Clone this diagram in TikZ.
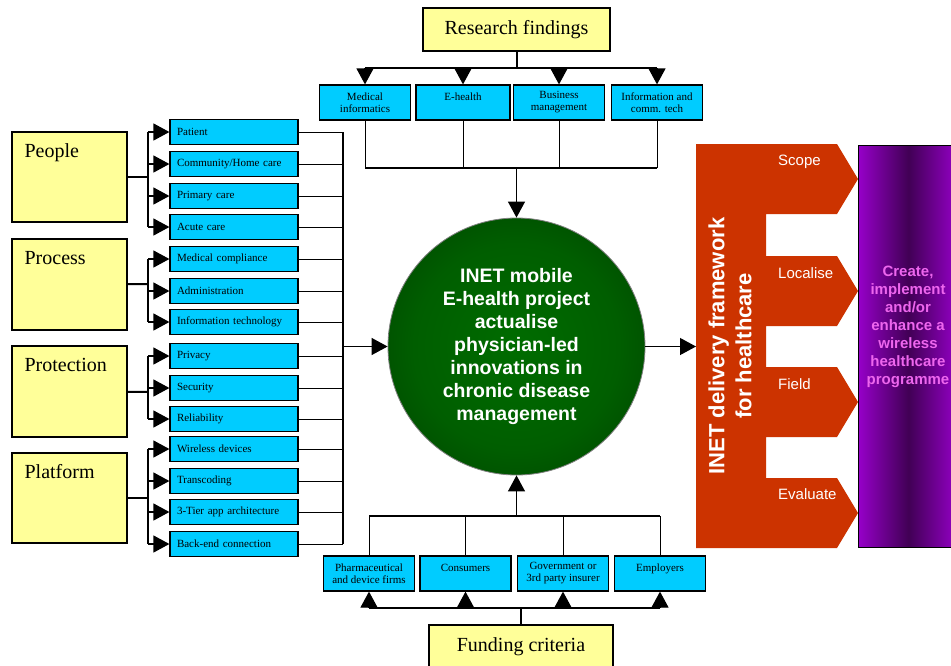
\documentclass[tikz,border=0pt]{standalone}
\usepackage{fontspec}
\setmainfont{Liberation Serif}
\setsansfont{Liberation Sans}
\usetikzlibrary{arrows.meta}
\definecolor{paleyellow}{RGB}{255,255,153}
\definecolor{skyblue}{RGB}{0,204,255}
\definecolor{rust}{RGB}{204,51,0}
\definecolor{violetedge}{RGB}{150,0,200}
\definecolor{violetmid}{RGB}{65,0,85}
\definecolor{pinktext}{RGB}{238,102,238}
\definecolor{hubin}{RGB}{0,108,0}
\definecolor{hubout}{RGB}{0,38,0}
\pgfdeclareradialshading{hubglow}{\pgfpoint{0bp}{0bp}}{color(0bp)=(hubin); color(20bp)=(hubin!80!hubout); color(50bp)=(hubout)}
\tikzset{
  heading/.style={draw=black, line width=1.2pt, fill=paleyellow, inner sep=0pt,
    font=\fontsize{20}{24}\selectfont},
  headtxt/.style={anchor=base west, inner sep=0pt, font=\fontsize{20}{24}\selectfont},
  itembox/.style={draw=black, line width=1.2pt, fill=skyblue, minimum height=25pt,
    text width=114pt, inner xsep=7pt, inner ysep=0pt, align=left,
    font=\fontsize{11}{12}\selectfont},
  topicbox/.style={draw=black, line width=1.2pt, fill=skyblue, minimum width=91pt,
    minimum height=35pt, inner sep=0pt, align=center,
    font=\fontsize{11}{12}\selectfont},
  link/.style={line width=1pt},
  bus/.style={line width=1.5pt},
  feed/.style={line width=2pt},
  tip/.style={line width=1.2pt, -{Triangle[length=16pt,width=17pt]}},
  steplbl/.style={text=white, inner sep=0pt, anchor=west,
    font=\sffamily\fontsize{15}{18}\selectfont},
}
\begin{document}
\begin{tikzpicture}[x=1pt,y=-1pt]
    \useasboundingbox[fill=white] (0,0) rectangle (951,665);
    %
    \node[heading, minimum width=115pt, minimum height=90pt] (people) at (69.5,177) {};
    \node[heading, minimum width=115pt, minimum height=91pt] (process) at (69.5,284.5) {};
    \node[heading, minimum width=115pt, minimum height=91pt] (protection) at (69.5,391.5) {};
    \node[heading, minimum width=115pt, minimum height=90pt] (platform) at (69.5,498) {};
    \node[headtxt] (peopletxt) at ([shift={(13,26)}]people.north west) {People};
    \node[headtxt] (processtxt) at ([shift={(13,26)}]process.north west) {Process};
    \node[headtxt] (protectiontxt) at ([shift={(13,26)}]protection.north west) {Protection};
    \node[headtxt] (platformtxt) at ([shift={(13,26)}]platform.north west) {Platform};
    %
    \node[itembox] (patient) at (234,132) {Patient};
    \node[itembox] (homecare) at (234,164) {Community/Home care};
    \node[itembox] (primary) at (234,196) {Primary care};
    \node[itembox] (acute) at (234,227) {Acute care};
    \node[itembox] (compliance) at (234,259) {Medical compliance};
    \node[itembox] (admin) at (234,291) {Administration};
    \node[itembox] (infotech) at (234,322) {Information technology};
    \node[itembox] (privacy) at (234,356) {Privacy};
    \node[itembox] (security) at (234,388) {Security};
    \node[itembox] (reliability) at (234,419) {Reliability};
    \node[itembox] (wireless) at (234,449) {Wireless devices};
    \node[itembox] (transcoding) at (234,481) {Transcoding};
    \node[itembox] (tier) at (234,512) {3-Tier app architecture};
    \node[itembox] (backend) at (234,544) {Back-end connection};
    %
    \node[heading, minimum width=187pt, minimum height=43pt] (research) at (516.5,29.5) {Research findings};
    \node[topicbox] (medinf) at (365,102.5) {Medical\\informatics};
    \node[topicbox, minimum width=94pt] (ehealth) at (463,102.5) {E-health\\~};
    \node[topicbox] (business) at (559,102.5) {Business\\management};
    \node[topicbox] (ict) at (657,102.5) {Information and\\comm. tech};
    %
    \node[topicbox] (pharma) at (369,573.5) {Pharmaceutical\\and device firms};
    \node[topicbox] (consumers) at (465.5,573.5) {Consumers\\~};
    \node[topicbox] (insurer) at (563,573.5) {Government or\\3rd party insurer};
    \node[topicbox] (employers) at (660,573.5) {Employers\\~};
    \node[heading, minimum width=184pt, minimum height=44pt] (funding) at (521,647) {Funding criteria};
    %
    \node[circle, draw=gray, line width=0.8pt, minimum size=257pt, shading=hubglow,
      text=white, align=center, font=\sffamily\bfseries\fontsize{19.5}{23}\selectfont]
      (hub) at (516.5,346.5) {INET mobile\\E-health project\\actualise\\physician-led\\innovations in\\chronic disease\\management};
    %
    \coordinate (pj) at (148,177);
    \coordinate (rj) at (148,284);
    \coordinate (sj) at (148,392);
    \coordinate (fj) at (148,498);
    \coordinate (hj) at (343,346.5);
    \coordinate (tj) at (516.5,68);
    \coordinate (mj) at (516.5,168);
    \coordinate (bj) at (516.5,516);
    \coordinate (uj) at (521,608);
    \coordinate (fin) at (696,346.5);
    %
    \draw[feed] (people) -- (pj);
    \draw[bus] (pj |- patient) -- (pj |- acute);
    \draw[tip] (pj |- patient) -- (patient);
    \draw[tip] (pj |- homecare) -- (homecare);
    \draw[tip] (pj |- primary) -- (primary);
    \draw[tip] (pj |- acute) -- (acute);
    \draw[feed] (process) -- (rj);
    \draw[bus] (rj |- compliance) -- (rj |- infotech);
    \draw[tip] (rj |- compliance) -- (compliance);
    \draw[tip] (rj |- admin) -- (admin);
    \draw[tip] (rj |- infotech) -- (infotech);
    \draw[feed] (protection) -- (sj);
    \draw[bus] (sj |- privacy) -- (sj |- reliability);
    \draw[tip] (sj |- privacy) -- (privacy);
    \draw[tip] (sj |- security) -- (security);
    \draw[tip] (sj |- reliability) -- (reliability);
    \draw[feed] (platform) -- (fj);
    \draw[bus] (fj |- wireless) -- (fj |- backend);
    \draw[tip] (fj |- wireless) -- (wireless);
    \draw[tip] (fj |- transcoding) -- (transcoding);
    \draw[tip] (fj |- tier) -- (tier);
    \draw[tip] (fj |- backend) -- (backend);
    %
    \draw[link] (patient) -- (hj |- patient);
    \draw[link] (homecare) -- (hj |- homecare);
    \draw[link] (primary) -- (hj |- primary);
    \draw[link] (acute) -- (hj |- acute);
    \draw[link] (compliance) -- (hj |- compliance);
    \draw[link] (admin) -- (hj |- admin);
    \draw[link] (infotech) -- (hj |- infotech);
    \draw[link] (privacy) -- (hj |- privacy);
    \draw[link] (security) -- (hj |- security);
    \draw[link] (reliability) -- (hj |- reliability);
    \draw[link] (wireless) -- (hj |- wireless);
    \draw[link] (transcoding) -- (hj |- transcoding);
    \draw[link] (tier) -- (hj |- tier);
    \draw[link] (backend) -- (hj |- backend);
    \draw[bus] (hj |- patient) -- (hj |- backend);
    \draw[tip] (hj) -- (hub);
    %
    \draw[feed] (research) -- (tj);
    \draw[bus] (medinf |- tj) -- (ict |- tj);
    \draw[tip] (medinf |- tj) -- (medinf);
    \draw[tip] (ehealth |- tj) -- (ehealth);
    \draw[tip] (business |- tj) -- (business);
    \draw[tip] (ict |- tj) -- (ict);
    \draw[link] (medinf) -- (medinf |- mj);
    \draw[link] (ehealth) -- (ehealth |- mj);
    \draw[link] (business) -- (business |- mj);
    \draw[link] (ict) -- (ict |- mj);
    \draw[bus] (medinf |- mj) -- (ict |- mj);
    \draw[tip] (mj) -- (hub);
    %
    \draw[link] (pharma) -- (pharma |- bj);
    \draw[link] (consumers) -- (consumers |- bj);
    \draw[link] (insurer) -- (insurer |- bj);
    \draw[link] (employers) -- (employers |- bj);
    \draw[bus] (pharma |- bj) -- (employers |- bj);
    \draw[tip] (bj) -- (hub);
    \draw[feed] (funding) -- (uj);
    \draw[bus] (pharma |- uj) -- (employers |- uj);
    \draw[tip] (pharma |- uj) -- (pharma);
    \draw[tip] (consumers |- uj) -- (consumers);
    \draw[tip] (insurer |- uj) -- (insurer);
    \draw[tip] (employers |- uj) -- (employers);
    %
    \fill[rust] (696,144) -- (837,144) -- (858,179) -- (837,214) -- (766,214)
      -- (766,256) -- (837,256) -- (858,291) -- (837,326) -- (766,326)
      -- (766,367) -- (837,367) -- (858,402) -- (837,437) -- (766,437)
      -- (766,478) -- (837,478) -- (858,513) -- (837,548) -- (696,548) -- cycle;
    \node[rotate=90, text=white, align=center, font=\sffamily\bfseries\fontsize{22}{27}\selectfont]
      (frametitle) at (730,346) {INET delivery framework\\for healthcare};
    \node[steplbl] (scope) at (778,162) {Scope};
    \node[steplbl] (localise) at (778,273) {Localise};
    \node[steplbl] (field) at (778,384) {Field};
    \node[steplbl] (evaluate) at (778,494) {Evaluate};
    \draw[tip] (hub) -- (fin);
    %
    \node[draw=black, line width=1pt, anchor=north west, minimum width=100pt, minimum height=402pt,
      left color=violetedge, right color=violetedge, middle color=violetmid] (goal) at (858,145) {};
    \node[text=pinktext, align=center, font=\sffamily\bfseries\fontsize{15}{18}\selectfont]
      (goaltxt) at (908,327) {Create,\\implement\\and/or\\enhance a\\wireless\\healthcare\\programme};
  \end{tikzpicture}
\end{document}
